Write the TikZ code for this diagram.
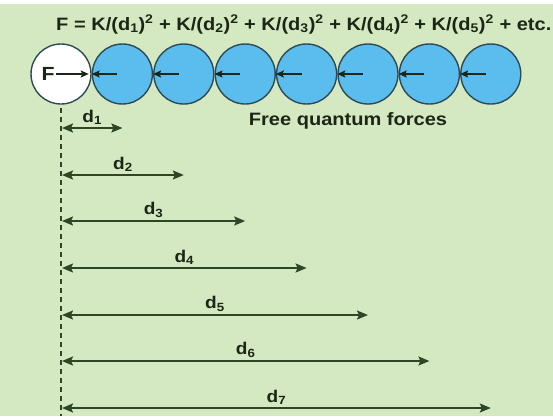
\documentclass[tikz,border=0pt]{standalone}
\usepackage{fontspec}
\setsansfont{Liberation Sans}[FakeStretch=1.12]
\usetikzlibrary{positioning, arrows.meta}

\definecolor{bggreen}{HTML}{D4E9C1}
\definecolor{ballblue}{HTML}{5BBCEE}
\definecolor{balledge}{HTML}{2E4A55}
\definecolor{inkdark}{HTML}{1C2616}
\definecolor{arrowgreen}{HTML}{2C4626}

\begin{document}
\begin{tikzpicture}[x=1pt, y=-1pt,
        ball/.style={circle, draw=balledge, line width=1.4pt, fill=ballblue, minimum size=60pt, inner sep=0pt},
        probe/.style={ball, fill=white},
        push/.style={-{Stealth[length=8pt, width=7pt, inset=1.5pt]}, line width=1.5pt, draw=inkdark},
        dist/.style={{Stealth[length=11pt, width=9pt, inset=2pt]}-{Stealth[length=11pt, width=9pt, inset=2pt]}, line width=1.8pt, draw=arrowgreen},
        guide/.style={dash pattern=on 5pt off 4pt, line width=1.4pt, draw=arrowgreen},
        txt/.style={font=\sffamily\bfseries\fontsize{17.9}{21}\selectfont, text=inkdark, inner sep=1pt},
        dlabel/.style={font=\sffamily\bfseries\fontsize{17}{20}\selectfont, text=inkdark, inner sep=2.5pt}
    ]
    \fill[white] (0,0) rectangle (553,416);
    \fill[bggreen] (0,4) rectangle (553,416);
    \useasboundingbox (0,0) rectangle (553,416);

    \node[txt, anchor=base west] (law) at (55,30) {F = K/(d\textsubscript{1})\textsuperscript{2} + K/(d\textsubscript{2})\textsuperscript{2} + K/(d\textsubscript{3})\textsuperscript{2} + K/(d\textsubscript{4})\textsuperscript{2} + K/(d\textsubscript{5})\textsuperscript{2} + etc.};

    \node[probe] (probe) at (61,74) {};
    \node[ball, right=0pt of probe] (b1) {};
    \node[ball, right=0pt of b1] (b2) {};
    \node[ball, right=0pt of b2] (b3) {};
    \node[ball, right=0pt of b3] (b4) {};
    \node[ball, right=0pt of b4] (b5) {};
    \node[ball, right=0pt of b5] (b6) {};
    \node[ball, right=0pt of b6] (b7) {};

    \node[txt, font=\sffamily\bfseries\fontsize{19}{21}\selectfont] (f) at (48,74) {F};
    \draw[push] (f) -- ([xshift=-3pt]probe.east);
    \draw[push] ([xshift=-5pt]b1.center) -- (b1.west);
    \draw[push] ([xshift=-5pt]b2.center) -- (b2.west);
    \draw[push] ([xshift=-5pt]b3.center) -- (b3.west);
    \draw[push] ([xshift=-5pt]b4.center) -- (b4.west);
    \draw[push] ([xshift=-5pt]b5.center) -- (b5.west);
    \draw[push] ([xshift=-5pt]b6.center) -- (b6.west);
    \draw[push] ([xshift=-5pt]b7.center) -- (b7.west);

    \node[txt, anchor=base] (free) at (348,125) {Free quantum forces};

    \coordinate (top) at (61,108);
    \coordinate (bottom) at (61,416);
    \draw[guide] (top) -- (bottom);

    \coordinate (s1) at (62,128);
    \coordinate (s2) at (62,175);
    \coordinate (s3) at (62,221);
    \coordinate (s4) at (62,268);
    \coordinate (s5) at (62,315);
    \coordinate (s6) at (62,361);
    \coordinate (s7) at (62,408);
    \draw[dist] (s1) -- node[dlabel, above] {d\textsubscript{1}} (s1 -| b1);
    \draw[dist] (s2) -- node[dlabel, above] {d\textsubscript{2}} (s2 -| b2);
    \draw[dist] (s3) -- node[dlabel, above] {d\textsubscript{3}} (s3 -| b3);
    \draw[dist] (s4) -- node[dlabel, above] {d\textsubscript{4}} (s4 -| b4);
    \draw[dist] (s5) -- node[dlabel, above] {d\textsubscript{5}} (s5 -| b5);
    \draw[dist] (s6) -- node[dlabel, above] {d\textsubscript{6}} (s6 -| b6);
    \draw[dist] (s7) -- node[dlabel, above] {d\textsubscript{7}} (s7 -| b7);
\end{tikzpicture}
\end{document}
